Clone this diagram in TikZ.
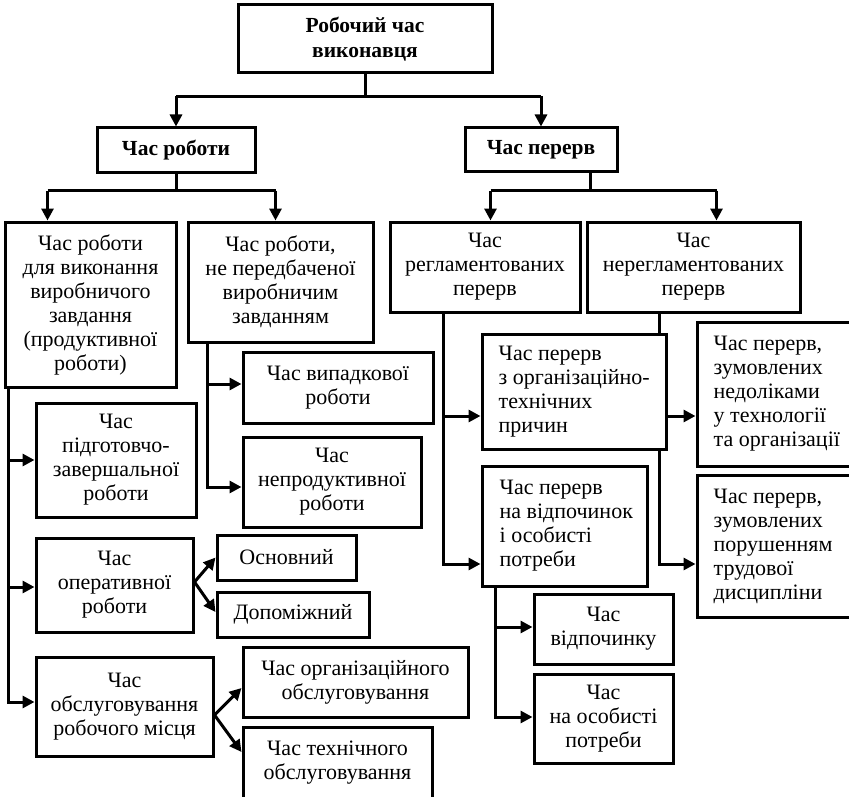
\documentclass[tikz,border=0pt]{standalone}
\usepackage{fontspec}
\setmainfont{Liberation Serif}
\usetikzlibrary{arrows.meta,backgrounds,calc}
\begin{document}
\begin{tikzpicture}[x=1pt,y=-1pt,
  box/.style={draw,line width=3pt,fill=white,inner sep=0pt,align=center,
    font=\fontsize{22}{24}\selectfont},
  bx/.style 2 args={box,minimum width=#1pt,minimum height=#2pt},
  bbx/.style 2 args={bx={#1}{#2},font=\fontsize{21.5}{25}\selectfont\bfseries},
  ltxt/.style={inner sep=0pt,align=left,anchor=west,font=\fontsize{22}{24}\selectfont},
  lin/.style={line width=3pt},
  arr/.style={line width=3pt,-{Triangle[length=12pt,width=12pt]}}
]
\useasboundingbox (0,0) rectangle (849,797);
\clip (0,0) rectangle (849,797);

% top levels
\node[bbx={254}{68}] (T) at (365,39) {Робочий час\\виконавця};
\node[bbx={158}{45}] (R1) at (176,150.5) {Час роботи};
\node[bbx={152}{44}] (R2) at (541,150) {Час перерв};

% second level
\node[bx={171}{165}] (A) at (90.5,304.5) {Час роботи\\для виконання\\виробничого\\завдання\\(продуктивної\\роботи)};
\node[bx={185}{120}] (B) at (280.5,282) {Час роботи,\\не передбаченої\\виробничим\\завданням};
\node[bx={190}{90}] (C) at (485,267) {Час\\регламентованих\\перерв};
\node[bx={213}{90}] (D) at (693.5,267) {Час\\нерегламентованих\\перерв};

% breaks (left-aligned texts)
\node[bx={184}{115}] (E) at (574,391.5) {};
\node[ltxt] (Et) at ($(E.west)+(18,0)$) {Час перерв\\з організаційно-\\технічних\\причин};
\node[bx={160}{144}] (F) at (777,394) {};
\node[ltxt] (Ft) at ($(F.west)+(18,0)$) {Час перерв,\\зумовлених\\недоліками\\у технології\\та організації};
\node[bx={165}{120}] (G) at (564.5,526) {};
\node[ltxt] (Gt) at ($(G.west)+(19,0)$) {Час перерв\\на відпочинок\\і особисті\\потреби};
\node[bx={160}{142}] (H) at (777,546) {};
\node[ltxt] (Ht) at ($(H.west)+(18,0)$) {Час перерв,\\зумовлених\\порушенням\\трудової\\дисципліни};
\node[bx={139}{70}] (I) at (603.5,629) {Час\\відпочинку};
\node[bx={139}{89}] (J) at (603.5,718.5) {Час\\на особисті\\потреби};

% work
\node[bx={160}{114}] (K) at (116,460) {Час\\підготовчо-\\завершальної\\роботи};
\node[bx={157}{94}] (L) at (114.5,585) {Час\\оперативної\\роботи};
\node[bx={177}{99}] (M) at (124.5,706.5) {Час\\обслуговування\\робочого місця};
\node[bx={190}{71}] (N) at (338,387.5) {Час випадкової\\роботи};
\node[bx={178}{90}] (O) at (332,482) {Час\\непродуктивної\\роботи};
\node[bx={139}{45}] (P) at (286.5,557.5) {Основний};
\node[bx={152}{45}] (Q) at (293,614.5) {Допоміжний};
\node[bx={225}{70}] (S) at (355.5,682) {Час організаційного\\обслуговування};
\node[bx={189}{72}] (U) at (337.5,763) {Час технічного\\обслуговування};

\begin{scope}[on background layer]
\fill[white] (0,0) rectangle (849,797);
% top split
\draw[lin] (T.south) -- ++(0,22) coordinate (tj);
\draw[arr] (R1.north |- tj) -- (R1.north);
\draw[arr] (R2.north |- tj) -- (R2.north);
\draw[lin] (R1.north |- tj) -- (R2.north |- tj);
% work split
\draw[lin] (R1.south) -- ++(0,16) coordinate (wj);
\coordinate (a1) at ($(A.north west)+(44,0)$);
\coordinate (b1) at ($(B.north west)+(89,0)$);
\draw[lin] (a1 |- wj) -- (b1 |- wj);
\draw[arr] (a1 |- wj) -- (a1);
\draw[arr] (b1 |- wj) -- (b1);
% break split
\draw[lin] ($(R2.south west)+(127,0)$) -- ++(0,17) coordinate (pj);
\coordinate (c1) at ($(C.north west)+(102,0)$);
\coordinate (d1) at ($(D.north west)+(131,0)$);
\draw[lin] (c1 |- pj) -- (d1 |- pj);
\draw[arr] (c1 |- pj) -- (c1);
\draw[arr] (d1 |- pj) -- (d1);
% regulated
\draw[arr] ($(C.south west)+(55,0)$) |- ($(E.west)+(0,24.5)$);
\draw[arr] ($(C.south west)+(55,0)$) |- ($(G.west)+(0,38)$);
% unregulated
\draw[arr] ($(D.south west)+(74,0)$) |- ($(F.west)+(0,22)$);
\draw[arr] ($(D.south west)+(74,0)$) |- ($(H.west)+(0,18)$);
% rest
\draw[arr] ($(G.south west)+(15,0)$) |- ($(I.west)+(0,-2)$);
\draw[arr] ($(G.south west)+(15,0)$) |- ($(J.west)+(0,-1.5)$);
% productive
\draw[arr] ($(A.south west)+(5,0)$) |- (K.west);
\draw[arr] ($(A.south west)+(5,0)$) |- ($(L.west)+(0,2)$);
\draw[arr] ($(A.south west)+(5,0)$) |- ($(M.west)+(0,-4.5)$);
% unplanned
\draw[arr] ($(B.south west)+(21,0)$) |- ($(N.west)+(0,-3.5)$);
\draw[arr] ($(B.south west)+(21,0)$) |- ($(O.west)+(0,5)$);
% operative
\draw[arr] ($(L.east)+(0,-3)$) -- (P.west);
\draw[arr] ($(L.east)+(0,-3)$) -- ($(Q.west)+(0,-2.5)$);
% service
\draw[arr] ($(M.east)+(0,8.5)$) -- ($(S.west)+(0,6)$);
\draw[arr] ($(M.east)+(0,8.5)$) -- ($(U.west)+(0,-11)$);
\end{scope}
\end{tikzpicture}
\end{document}
